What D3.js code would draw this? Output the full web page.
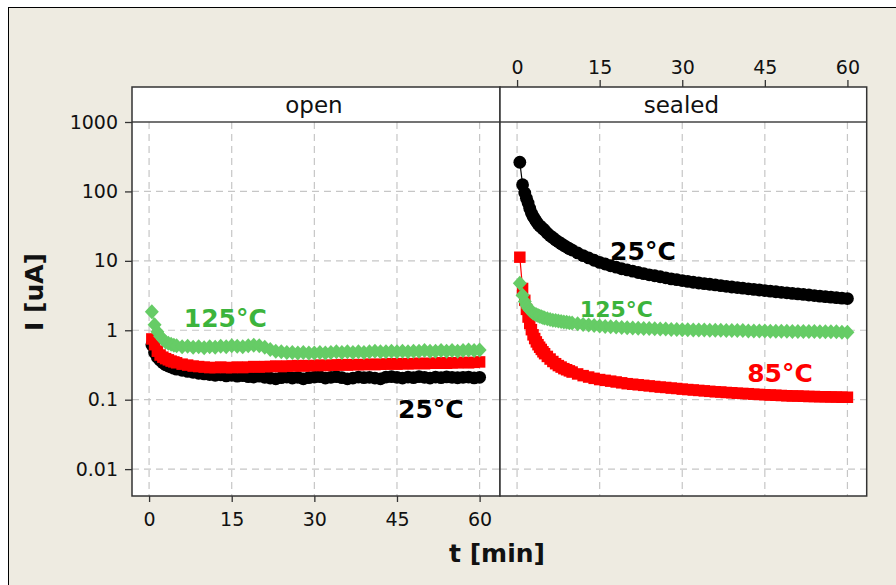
<!DOCTYPE html>
<html>
<head>
<meta charset="utf-8">
<script src="https://cdn.jsdelivr.net/npm/d3@7"></script>
<style>
  html, body { margin: 0; padding: 0; background: #ffffff; }
  svg { display: block; }
  text { font-family: "DejaVu Sans", Verdana, sans-serif; }
</style>
</head>
<body>
<svg id="chart" width="896" height="585"></svg>
<script>
// ---------------- data ----------------
const panels = ["open", "sealed"];
const xTicks = [0, 15, 30, 45, 60];
const yTicks = [0.01, 0.1, 1, 10, 100, 1000];

const timesOpen = [0.5,1,1.5,2,2.5,3,3.5,4,4.5,5,6,7,8,9,10,11,12,13,14,15,16,17,18,19,20,21,22,23,24,25,26,27,28,29,30,31,32,33,34,35,36,37,38,39,40,41,42,43,44,45,46,47,48,49,50,51,52,53,54,55,56,57,58,59,60];

const openBlack = [0.62,0.48,0.41,0.37,0.34,0.32,0.305,0.295,0.285,0.275,
  0.265,0.255,0.248,0.24,0.235,0.23,0.225,0.228,0.22,0.225,
  0.218,0.222,0.215,0.212,0.218,0.21,0.205,0.2,0.208,0.212,
  0.205,0.21,0.2,0.208,0.212,0.215,0.205,0.21,0.215,0.208,
  0.2,0.205,0.212,0.208,0.21,0.205,0.2,0.212,0.215,0.21,
  0.205,0.212,0.208,0.215,0.21,0.205,0.212,0.208,0.213,0.21,
  0.207,0.21,0.212,0.206,0.21];
const openRed = [0.75,0.62,0.5,0.44,0.41,0.39,0.375,0.36,0.35,0.34,
  0.325,0.315,0.305,0.3,0.295,0.29,0.29,0.295,0.29,0.29,
  0.295,0.29,0.295,0.3,0.295,0.3,0.3,0.305,0.3,0.305,
  0.305,0.31,0.305,0.31,0.31,0.315,0.31,0.315,0.315,0.32,
  0.315,0.32,0.32,0.32,0.325,0.32,0.325,0.325,0.33,0.325,
  0.33,0.33,0.33,0.335,0.33,0.335,0.335,0.34,0.335,0.34,
  0.34,0.345,0.34,0.345,0.35];
const openGreen = [1.85,1.2,0.95,0.82,0.74,0.68,0.65,0.63,0.61,0.6,
  0.58,0.59,0.57,0.58,0.56,0.58,0.57,0.59,0.58,0.6,
  0.59,0.58,0.6,0.61,0.6,0.57,0.53,0.5,0.49,0.48,
  0.48,0.47,0.48,0.47,0.47,0.48,0.47,0.48,0.49,0.48,
  0.49,0.48,0.49,0.48,0.49,0.5,0.49,0.49,0.5,0.49,
  0.5,0.49,0.5,0.5,0.51,0.5,0.5,0.51,0.5,0.51,
  0.5,0.51,0.52,0.51,0.52];

const timesSealed = [0.5,1.0,1.4,1.7,2.0,2.3,2.6,2.9,3.2,3.5,3.8,4.1,4.4,4.7,5.0,5.5,6,6.5,7,7.5,8,8.5,9,9.5,10,
  11,12,13,14,15,16,17,18,19,20,21,22,23,24,25,26,27,28,29,30,31,32,33,34,35,36,37,38,39,40,41,42,43,44,45,46,47,48,49,50,51,52,53,54,55,56,57,58,59,60];

const sealedBlack = [263,125,95,80,68,57,49,44,40,37,34,32,30.5,29,27.5,25,23,21.5,20,18.8,17.7,16.7,15.8,15,14.3,
  13,11.9,11,10.2,9.5,
  9.0,8.5,8.1,7.7,7.4,7.1,6.8,6.55,6.3,6.1,
  5.9,5.7,5.5,5.35,5.2,5.05,4.92,4.8,4.7,4.6,
  4.5,4.4,4.3,4.2,4.12,4.04,3.96,3.88,3.8,3.73,
  3.66,3.59,3.52,3.46,3.4,3.34,3.28,3.22,3.16,3.1,
  3.05,3.0,2.95,2.9,2.86];
const sealedRed = [11.3,4.0,2.7,2.0,1.55,1.25,1.02,0.86,0.76,0.68,0.62,0.57,0.53,0.49,0.46,0.42,0.385,0.355,0.33,0.31,0.295,0.28,0.27,0.26,0.25,
  0.235,0.222,0.212,0.203,0.195,
  0.19,0.185,0.18,0.175,0.17,0.167,0.164,0.161,0.158,0.155,
  0.152,0.15,0.147,0.145,0.142,0.14,0.138,0.136,0.134,0.132,
  0.13,0.129,0.127,0.126,0.124,0.123,0.122,0.12,0.119,0.118,
  0.117,0.116,0.115,0.114,0.113,0.113,0.112,0.111,0.111,0.11,
  0.11,0.109,0.109,0.108,0.108];
const sealedGreen = [4.75,3.2,2.6,2.3,2.1,1.96,1.86,1.78,1.72,1.67,1.63,1.59,1.56,1.53,1.5,1.46,1.43,1.4,1.38,1.36,1.34,1.32,1.3,1.28,1.27,
  1.24,1.21,1.19,1.17,1.15,
  1.13,1.12,1.11,1.1,1.09,1.08,1.07,1.06,1.06,1.05,
  1.04,1.04,1.03,1.03,1.02,1.02,1.01,1.01,1.01,1.0,
  1.0,1.0,0.99,0.99,0.99,0.99,0.98,0.98,0.98,0.98,
  0.97,0.97,0.97,0.97,0.96,0.96,0.96,0.96,0.96,0.95,
  0.95,0.95,0.95,0.94,0.94];

const annotationText = ["125°C", "25°C", "25°C", "125°C", "85°C"];
const annotationPanel = ["open", "open", "sealed", "sealed", "sealed"];
const annotationT = [6.3, 45.2, 16.9, 11.4, 41.8];
const annotationV = [1.11, 0.054, 10.3, 1.55, 0.182];

// ---------------- layout / style ----------------
const W = 896, H = 585;
const bg = "#eeebe1";
const colors = { "25°C": "#000000", "85°C": "#ff0000", "125°C": "#66cc66" };
const labelColors = { "25°C": "#000000", "85°C": "#ff0000", "125°C": "#3cb43c" };

const svg = d3.select("#chart");

// frame
svg.append("rect").attr("x", 0).attr("y", 0).attr("width", W).attr("height", H).attr("fill", "#ffffff");
svg.append("rect").attr("x", 8.5).attr("y", 7.5).attr("width", W + 10).attr("height", H + 10)
  .attr("fill", bg).attr("stroke", "#000").attr("stroke-width", 1);

const stripTop = 87, plotTop = 122, plotBottom = 496;
const panelX = { open: [132, 500], sealed: [500, 866.7] };

const x = {
  open: d3.scaleLinear().domain([-3.1, 63.7]).range(panelX.open),
  sealed: d3.scaleLinear().domain([-3.1, 63.5]).range(panelX.sealed)
};
const y = d3.scaleLog().domain([0.0041, 1000]).range([plotBottom, plotTop]);

const times = { open: timesOpen, sealed: timesSealed };
const data = {
  open: [
    { name: "25°C", values: openBlack, shape: "circle" },
    { name: "85°C", values: openRed, shape: "square" },
    { name: "125°C", values: openGreen, shape: "diamond" }
  ],
  sealed: [
    { name: "25°C", values: sealedBlack, shape: "circle" },
    { name: "85°C", values: sealedRed, shape: "square" },
    { name: "125°C", values: sealedGreen, shape: "diamond" }
  ]
};

panels.forEach(p => {
  const [x0, x1] = panelX[p];
  svg.append("rect").attr("x", x0).attr("y", stripTop).attr("width", x1 - x0).attr("height", plotBottom - stripTop)
    .attr("fill", "#ffffff");

  const g = svg.append("g");
  g.selectAll(".vg").data(xTicks).enter().append("line")
    .attr("x1", d => x[p](d)).attr("x2", d => x[p](d))
    .attr("y1", plotTop).attr("y2", plotBottom)
    .attr("stroke", "#c6c6c6").attr("stroke-width", 1.2).attr("stroke-dasharray", "7,5");
  g.selectAll(".hg").data(yTicks.filter(v => v < 1000)).enter().append("line")
    .attr("x1", x0).attr("x2", x1)
    .attr("y1", d => y(d)).attr("y2", d => y(d))
    .attr("stroke", "#c6c6c6").attr("stroke-width", 1.2).attr("stroke-dasharray", "7,5");

  const clipId = "clip-" + p;
  svg.append("clipPath").attr("id", clipId).append("rect")
    .attr("x", x0).attr("y", plotTop).attr("width", x1 - x0).attr("height", plotBottom - plotTop);
  const sg = g.append("g").attr("clip-path", `url(#${clipId})`);

  data[p].forEach(s => {
    const pts = times[p].map((t, i) => [t, s.values[i]]);
    const col = colors[s.name];
    const line = d3.line().x(d => x[p](d[0])).y(d => y(d[1]));
    sg.append("path").attr("d", line(pts)).attr("fill", "none").attr("stroke", col).attr("stroke-width", 1.2);
    const sym = s.shape === "circle" ? d3.symbol().type(d3.symbolCircle).size(Math.PI * 6.4 * 6.4)
      : s.shape === "square" ? d3.symbol().type(d3.symbolSquare).size(11.5 * 11.5)
      : null;
    const diamondPath = "M0,-7.5L7,0L0,7.5L-7,0Z";
    sg.selectAll(null).data(pts).enter().append("path")
      .attr("transform", d => `translate(${x[p](d[0])},${y(d[1])})`)
      .attr("d", sym ? sym() : diamondPath)
      .attr("fill", col);
  });

  svg.append("line").attr("x1", x0).attr("x2", x1).attr("y1", plotTop).attr("y2", plotTop)
    .attr("stroke", "#444").attr("stroke-width", 1.5);
  svg.append("text").attr("x", (x0 + x1) / 2 - 2).attr("y", 113).attr("text-anchor", "middle")
    .attr("font-size", 23).attr("fill", "#111").text(p);
  svg.append("rect").attr("x", x0).attr("y", stripTop).attr("width", x1 - x0).attr("height", plotBottom - stripTop)
    .attr("fill", "none").attr("stroke", "#333").attr("stroke-width", 1.5);
});

// axes
const yAxis = svg.append("g").attr("transform", `translate(${panelX.open[0]},0)`)
  .call(d3.axisLeft(y).tickValues(yTicks).tickFormat(d3.format("~g")).tickSize(7).tickPadding(7));
const xAxisB = svg.append("g").attr("transform", `translate(0,${plotBottom})`)
  .call(d3.axisBottom(x.open).tickValues(xTicks).tickSize(6).tickPadding(11));
const xAxisT = svg.append("g").attr("transform", `translate(0,${stripTop})`)
  .call(d3.axisTop(x.sealed).tickValues(xTicks).tickSize(7).tickPadding(6));
[yAxis, xAxisB, xAxisT].forEach(a => {
  a.select(".domain").remove();
  a.selectAll(".tick line").attr("stroke", "#333").attr("stroke-width", 1.3);
  a.selectAll(".tick text").attr("font-size", 19).attr("fill", "#111")
    .attr("font-family", '"DejaVu Sans", Verdana, sans-serif');
});

// annotations
annotationText.forEach((txt, i) => {
  const p = annotationPanel[i];
  svg.append("text")
    .attr("x", x[p](annotationT[i])).attr("y", y(annotationV[i]))
    .attr("font-size", (p === "sealed" && txt === "125°C") ? 22 : 25)
    .attr("font-weight", "bold")
    .attr("fill", labelColors[txt])
    .text(txt);
});

// axis titles
svg.append("text").attr("x", 497).attr("y", 562).attr("text-anchor", "middle")
  .attr("font-size", 25).attr("font-weight", "bold").attr("fill", "#111").text("t [min]");
svg.append("text").attr("transform", "translate(43,292) rotate(-90)").attr("text-anchor", "middle")
  .attr("font-size", 25).attr("font-weight", "bold").attr("fill", "#111").text("I [uA]");
</script>
</body>
</html>
